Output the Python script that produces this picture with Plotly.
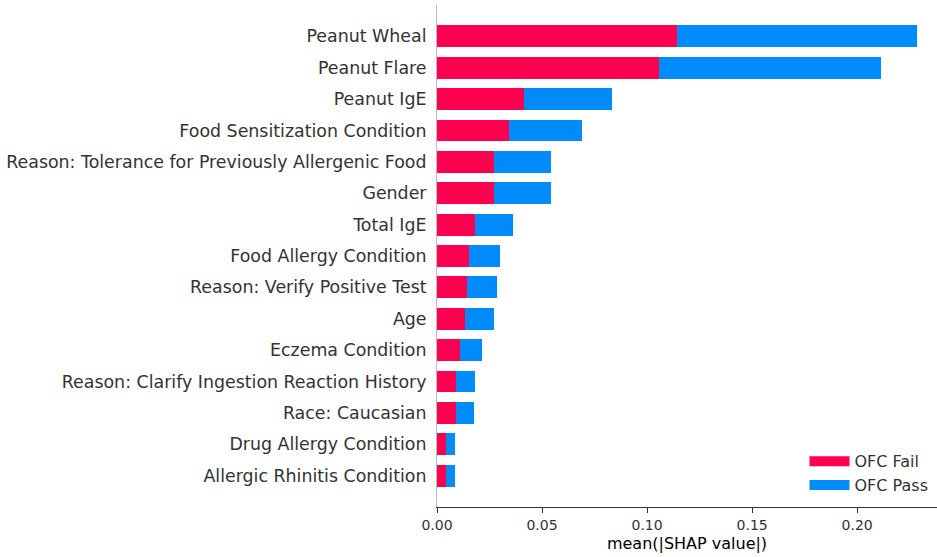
import plotly.graph_objects as go

features = [
    "Peanut Wheal",
    "Peanut Flare",
    "Peanut IgE",
    "Food Sensitization Condition",
    "Reason: Tolerance for Previously Allergenic Food",
    "Gender",
    "Total IgE",
    "Food Allergy Condition",
    "Reason: Verify Positive Test",
    "Age",
    "Eczema Condition",
    "Reason: Clarify Ingestion Reaction History",
    "Race: Caucasian",
    "Drug Allergy Condition",
    "Allergic Rhinitis Condition",
]
ofc_fail = [0.1141, 0.1056, 0.0416, 0.0344, 0.0270, 0.0270, 0.0181, 0.0151,
            0.0143, 0.0135, 0.0108, 0.0089, 0.0089, 0.0043, 0.0043]
ofc_pass = [0.1143, 0.1057, 0.0419, 0.0346, 0.0273, 0.0271, 0.0182, 0.0151,
            0.0141, 0.0135, 0.0106, 0.0092, 0.0089, 0.0044, 0.0044]
x_ticks = [0.0, 0.05, 0.10, 0.15, 0.20]
x_tick_labels = ["0.00", "0.05", "0.10", "0.15", "0.20"]

n = len(features)
ypos = [n - 1 - i for i in range(n)]

RED = "#FF0051"
BLUE = "#008BFB"
FONT = "DejaVu Sans"

fig = go.Figure()
fig.add_trace(go.Bar(
    y=ypos, x=ofc_fail, orientation="h", name="OFC Fail", showlegend=False,
    marker=dict(color=RED, line=dict(width=0)), width=0.7,
))
fig.add_trace(go.Bar(
    y=ypos, x=ofc_pass, orientation="h", name="OFC Pass", showlegend=False,
    marker=dict(color=BLUE, line=dict(width=0)), width=0.7,
))
# legend swatches (wide rectangles like matplotlib)
fig.add_trace(go.Scatter(x=[None], y=[None], mode="lines", name="OFC Fail",
                         line=dict(color=RED, width=10)))
fig.add_trace(go.Scatter(x=[None], y=[None], mode="lines", name="OFC Pass",
                         line=dict(color=BLUE, width=10)))

fig.update_layout(
    barmode="stack",
    width=937, height=557,
    margin=dict(l=437, r=0, t=5, b=50, autoexpand=False),
    paper_bgcolor="white", plot_bgcolor="white",
    font=dict(family=FONT, color="#333333", size=16),
    showlegend=True,
    legend=dict(
        x=0.735, xanchor="left", y=0.125, yanchor="top",
        font=dict(family=FONT, size=16, color="#333333"),
        bgcolor="rgba(255,255,255,0)", traceorder="normal",
        itemwidth=40, tracegroupgap=2,
    ),
    xaxis=dict(
        range=[0, 0.238],
        tickvals=x_ticks, ticktext=x_tick_labels,
        ticks="outside", ticklen=5, tickcolor="#333333",
        tickfont=dict(family=FONT, size=14, color="#333333"),
        showline=True, linecolor="#333333", linewidth=1,
        showgrid=False, zeroline=False, automargin=False,
        title=dict(text="mean(|SHAP value|)", font=dict(family=FONT, size=16, color="#000000"), standoff=6),
    ),
    yaxis=dict(
        range=[-1, n],
        tickvals=ypos, ticktext=features,
        ticks="", ticklabelstandoff=6,
        tickfont=dict(family=FONT, size=17.4, color="#333333"),
        showline=True, linecolor="#BBBBBB", linewidth=1,
        showgrid=False, zeroline=False, automargin=False,
    ),
)

fig.write_html("out.html", config={"displayModeBar": False},
               post_script="document.body.style.margin='0';")
